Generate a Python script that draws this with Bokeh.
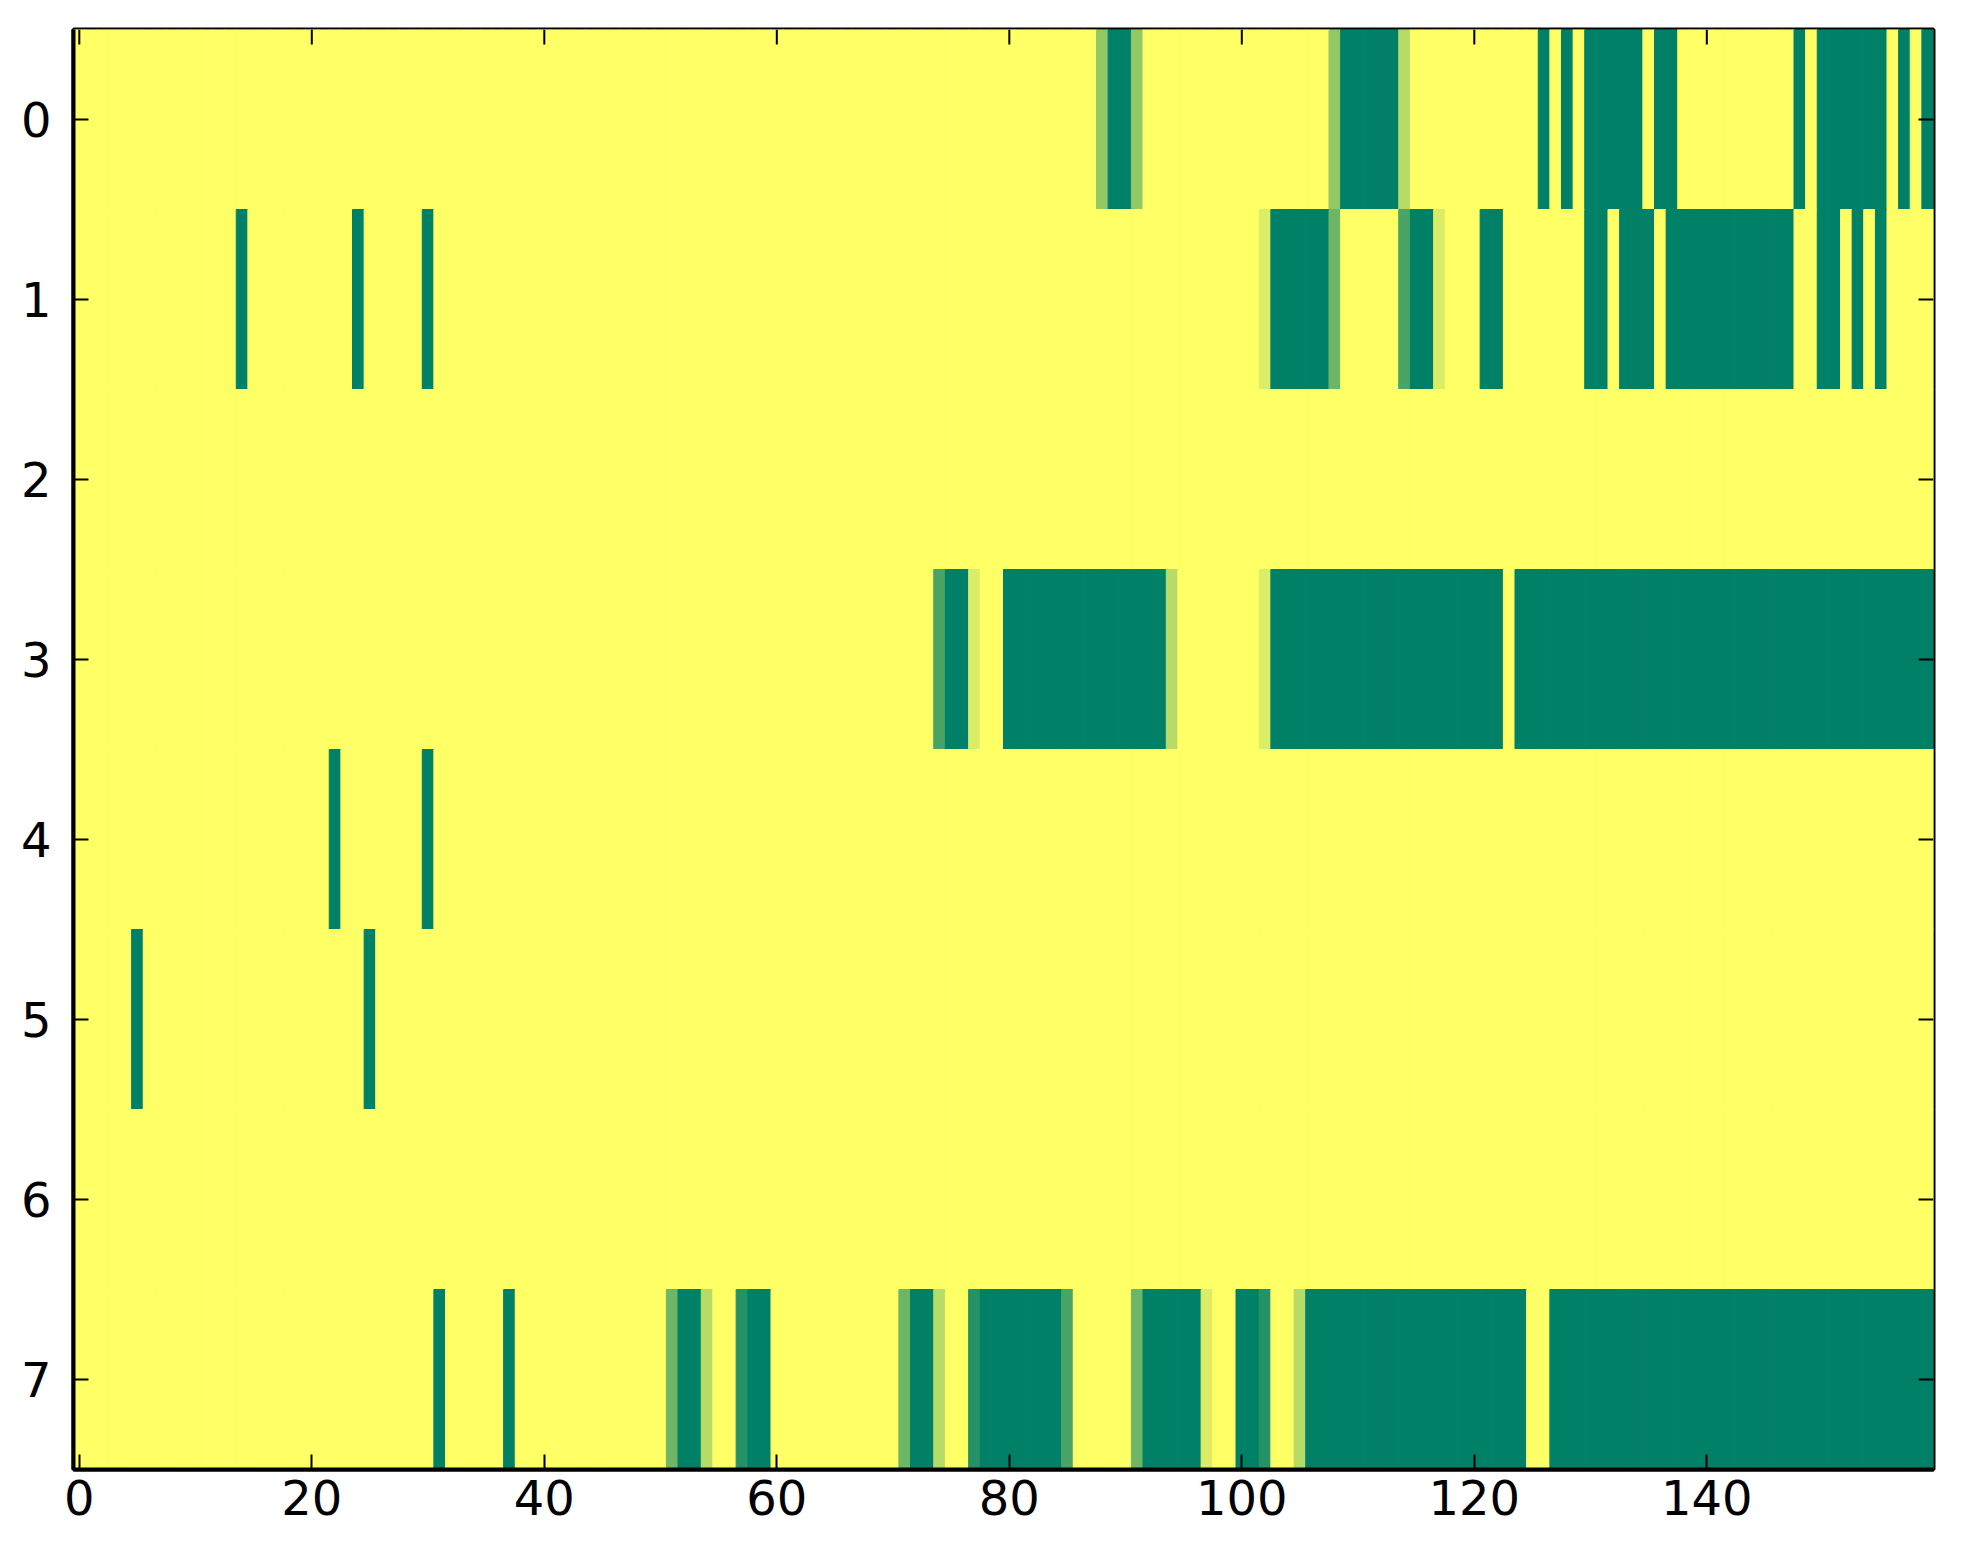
import numpy as np
from bokeh.plotting import figure
from bokeh.models import Range1d, FixedTicker, ColumnDataSource
from bokeh.embed import file_html
from bokeh.resources import INLINE

# ---- data -------------------------------------------------------------
n_rows = 8
n_cols = 160
n_levels = 7          # cell value = level / 7 (0 = green, 7 = yellow)
base_level = 7

# non-yellow runs per row: (first column, last column, level)
row0_runs = [(88, 88, 4), (89, 90, 0), (91, 91, 4), (108, 108, 4), (109, 113, 0),
             (114, 114, 5), (126, 126, 0), (128, 128, 0), (130, 134, 0), (136, 137, 0),
             (148, 148, 0), (150, 155, 0), (157, 157, 0), (159, 159, 0)]
row1_runs = [(14, 14, 0), (24, 24, 0), (30, 30, 0), (102, 102, 6), (103, 107, 0),
             (108, 108, 3), (114, 114, 2), (115, 116, 0), (117, 117, 6), (121, 122, 0),
             (130, 131, 0), (133, 135, 0), (137, 147, 0), (150, 151, 0), (153, 153, 0),
             (155, 155, 0)]
row2_runs = []
row3_runs = [(74, 74, 2), (75, 76, 0), (77, 77, 6), (80, 93, 0), (94, 94, 5),
             (102, 102, 6), (103, 122, 0), (124, 159, 0)]
row4_runs = [(22, 22, 0), (30, 30, 0)]
row5_runs = [(5, 5, 0), (25, 25, 0)]
row6_runs = []
row7_runs = [(31, 31, 0), (37, 37, 0), (51, 51, 3), (52, 53, 0), (54, 54, 5),
             (57, 57, 1), (58, 59, 0), (71, 71, 3), (72, 73, 0), (74, 74, 5),
             (77, 77, 1), (78, 84, 0), (85, 85, 2), (91, 91, 3), (92, 96, 0),
             (97, 97, 6), (100, 101, 0), (102, 102, 1), (105, 105, 5), (106, 124, 0),
             (127, 159, 0)]

all_runs = [row0_runs, row1_runs, row2_runs, row3_runs,
            row4_runs, row5_runs, row6_runs, row7_runs]

x_ticks = [0, 20, 40, 60, 80, 100, 120, 140]
y_ticks = [0, 1, 2, 3, 4, 5, 6, 7]

# ---- build grid -------------------------------------------------------
grid = np.full((n_rows, n_cols), base_level, dtype=int)
for r, runs in enumerate(all_runs):
    for a, b, lv in runs:
        grid[r, a:b + 1] = lv


def summer(v):
    r = v
    g = 0.5 + 0.5 * v
    b = 0.4
    return "#%02x%02x%02x" % (int(round(r * 255)), int(round(g * 255)), int(round(b * 255)))


rows, cols = np.mgrid[0:n_rows, 0:n_cols]
vals = grid.ravel() / n_levels
src = ColumnDataSource(dict(
    left=(cols.ravel() - 0.5).tolist(),
    right=(cols.ravel() + 0.5).tolist(),
    top=(rows.ravel() - 0.5).tolist(),
    bottom=(rows.ravel() + 0.5).tolist(),
    color=[summer(v) for v in vals],
))

# ---- figure -----------------------------------------------------------
FW, FH = 1860, 1440
TICK_PX = 15

p = figure(frame_width=FW, frame_height=FH,
           x_range=Range1d(-0.5, n_cols - 0.5), y_range=Range1d(n_rows - 0.5, -0.5),
           output_backend="svg", toolbar_location=None,
           min_border_left=73, min_border_right=14, min_border_top=29, min_border_bottom=79,
           background_fill_color="white", border_fill_color="white")

p.quad(left="left", right="right", top="top", bottom="bottom", source=src,
       fill_color="color", line_color="color", line_width=1)

# inward ticks on the top and right edges (mirroring the bottom/left ones)
dy = TICK_PX * n_rows / FH
dx = TICK_PX * n_cols / FW
p.segment(x0=x_ticks, x1=x_ticks, y0=[-0.5] * len(x_ticks), y1=[-0.5 + dy] * len(x_ticks),
          line_color="black", line_width=2)
p.segment(x0=[n_cols - 0.5] * len(y_ticks), x1=[n_cols - 0.5 - dx] * len(y_ticks),
          y0=y_ticks, y1=y_ticks, line_color="black", line_width=2)

p.xgrid.visible = False
p.ygrid.visible = False
p.outline_line_color = "black"
p.outline_line_width = 4


def style_axis(ax, standoff):
    ax.axis_line_color = "black"
    ax.axis_line_width = 4
    ax.major_tick_in = TICK_PX
    ax.major_tick_out = 0
    ax.major_tick_line_width = 2
    ax.major_tick_line_color = "black"
    ax.minor_tick_line_color = None
    ax.major_label_text_font = "DejaVu Sans"
    ax.major_label_text_font_size = "48px"
    ax.major_label_text_color = "black"
    ax.major_label_standoff = standoff


p.xaxis.ticker = FixedTicker(ticks=x_ticks)
p.yaxis.ticker = FixedTicker(ticks=y_ticks)
style_axis(p.xaxis[0], 10)
style_axis(p.yaxis[0], 22)

open("out.html", "w").write(file_html(p, INLINE))
